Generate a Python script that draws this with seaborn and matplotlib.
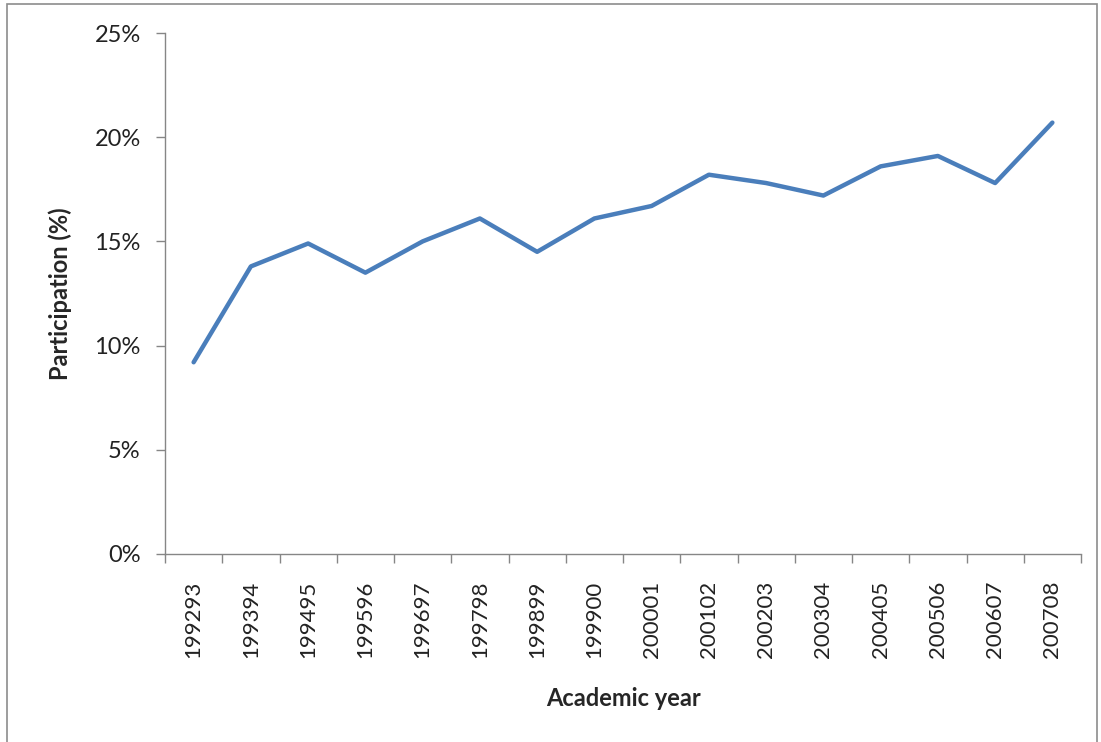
import matplotlib
matplotlib.use("Agg")
import matplotlib.pyplot as plt
import matplotlib.ticker as mticker
import seaborn as sns
import pandas as pd
import numpy as np

sns.set_style("white")
plt.rcParams['font.family'] = ['Lato', 'DejaVu Sans']

# academic years and participation (%)
years = ["199293", "199394", "199495", "199596", "199697", "199798", "199899", "199900",
         "200001", "200102", "200203", "200304", "200405", "200506", "200607", "200708"]
participation = [9.2, 13.8, 14.9, 13.5, 15.0, 16.1, 14.5, 16.1,
                 16.7, 18.2, 17.8, 17.2, 18.6, 19.1, 17.8, 20.7]
y_ticks = [0, 5, 10, 15, 20, 25]

df = pd.DataFrame({'pos': np.arange(len(years)), 'year': years, 'participation': participation})

fig = plt.figure(figsize=(11.01, 7.42), dpi=100)
ax = fig.add_axes([165 / 1101, 1 - 554 / 742, (1081 - 165) / 1101, (554 - 33) / 742])

sns.lineplot(data=df, x="pos", y="participation", color="#4a7ebb", linewidth=3.2, ax=ax)

axis_col = "#868686"
ax.set_xlim(-0.5, len(years) - 0.5)
ax.set_ylim(0, 25)
ax.set_yticks(y_ticks)
ax.yaxis.set_major_formatter(mticker.FuncFormatter(lambda v, p: f"{v:.0f}%"))
ax.tick_params(axis="y", direction="out", length=6.5, width=1, color=axis_col,
               labelsize=17, labelcolor="#222222", pad=11, left=True)

# category labels centred, tick marks at category boundaries
ax.set_xticks(df["pos"])
ax.set_xticklabels(years, rotation=90, fontsize=16, color="#222222")
ax.xaxis.set_minor_locator(mticker.FixedLocator(np.arange(-0.5, len(years), 1.0)))
ax.tick_params(axis="x", which="major", length=0, pad=19)
ax.tick_params(axis="x", which="minor", direction="out", length=6.3, width=1,
               color=axis_col, bottom=True)

for s in ["top", "right"]:
    ax.spines[s].set_visible(False)
for s in ["left", "bottom"]:
    ax.spines[s].set_color(axis_col)
    ax.spines[s].set_linewidth(1)

ax.set_xlabel("Academic year", fontsize=17, fontweight="bold", labelpad=21)
ax.set_ylabel("Participation (%)", fontsize=17, fontweight="bold", labelpad=16)

# outer chart border
fig.patches.append(plt.Rectangle((7 / 1101, -0.01), (1097 - 7) / 1101, 1 - 4 / 742 + 0.01,
                                 transform=fig.transFigure, fill=False,
                                 edgecolor="#8c8c8c", linewidth=1.2))

fig.savefig("out.png", dpi=100)
